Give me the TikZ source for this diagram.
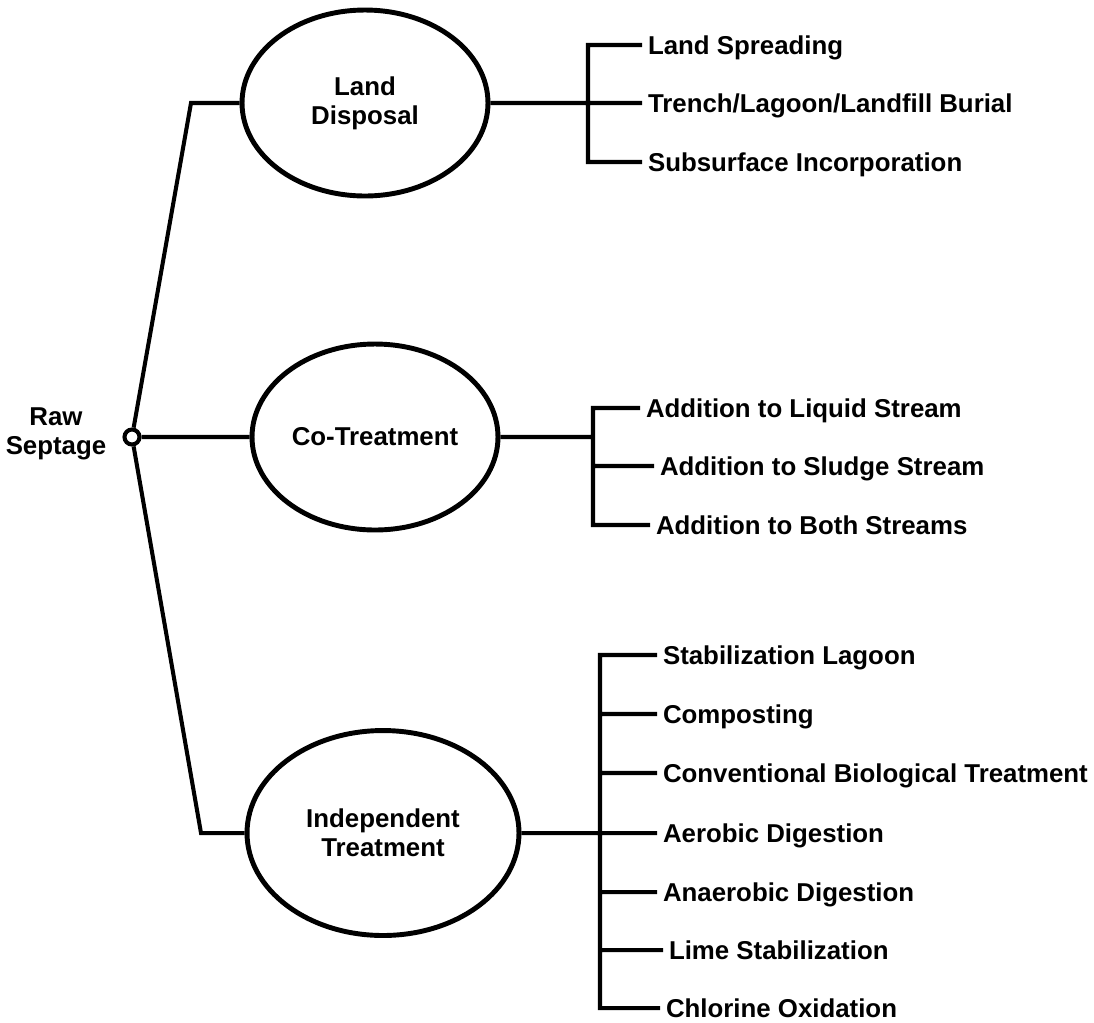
\documentclass[tikz,border=0pt]{standalone}
\usepackage{fontspec}
\setmainfont{Liberation Sans}
\usetikzlibrary{shapes.geometric}
\begin{document}
\begin{tikzpicture}[x=0.02cm,y=-0.02cm,line width=2.3pt,
    font=\fontsize{14.7}{16.5}\selectfont\bfseries,
    bubble/.style={ellipse,draw,line width=2.8pt,align=center,minimum width=4.92cm,minimum height=3.72cm,inner sep=0pt},
    junct/.style={circle,draw,fill=white,inner sep=0pt,minimum size=0.3cm},
    item/.style={anchor=west,inner xsep=0.08cm,inner ysep=0pt,text height=0.36cm,text depth=0pt}]
        \useasboundingbox (0,0) rectangle (1094,1022);
        \draw (132,437) node[junct](raw){};
        \draw (56,434) node[align=center](rawtxt){Raw\\Septage};
        \draw (365,103) node[bubble](land){Land\\Disposal};
        \draw (375,437) node[bubble](co){Co-Treatment};
        \draw (383,833) node[bubble,minimum width=5.44cm,minimum height=4.1cm](ind){Independent\\Treatment};
        \coordinate (k1) at (191,103);
        \coordinate (k3) at (201,833);
        \coordinate (b1) at (588,103);
        \coordinate (b2) at (593,437);
        \coordinate (b3) at (600,833);
        \draw (642,45) node[item](a1){Land Spreading};
        \draw (642,103) node[item](a2){Trench/Lagoon/Landfill Burial};
        \draw (642,162) node[item](a3){Subsurface Incorporation};
        \draw (640,408) node[item](o1){Addition to Liquid Stream};
        \draw (654,466) node[item](o2){Addition to Sludge Stream};
        \draw (650,525) node[item](o3){Addition to Both Streams};
        \draw (657,655) node[item](c1){Stabilization Lagoon};
        \draw (657,714) node[item](c2){Composting};
        \draw (657,773) node[item](c3){Conventional Biological Treatment};
        \draw (657,833) node[item](c4){Aerobic Digestion};
        \draw (657,892) node[item](c5){Anaerobic Digestion};
        \draw (663,950) node[item](c6){Lime Stabilization};
        \draw (660,1008) node[item](c7){Chlorine Oxidation};
        \draw
          (raw) -- (k1) -- (land.west)
          (raw) -- (co.west)
          (raw) -- (k3) -- (ind.west)
          (land.east) -- (a2.west)
          (a1.west) -- (b1 |- a1.west) -- (b1 |- a3.west) -- (a3.west)
          (co.east) -- (b2)
          (o1.west) -- (b2 |- o1.west) -- (b2 |- o3.west) -- (o3.west)
          (b2 |- o2.west) -- (o2.west)
          (ind.east) -- (c4.west)
          (c1.west) -- (b3 |- c1.west) -- (b3 |- c7.west) -- (c7.west)
          (b3 |- c2.west) -- (c2.west)
          (b3 |- c3.west) -- (c3.west)
          (b3 |- c5.west) -- (c5.west)
          (b3 |- c6.west) -- (c6.west)
        ;
      \end{tikzpicture}
\end{document}
